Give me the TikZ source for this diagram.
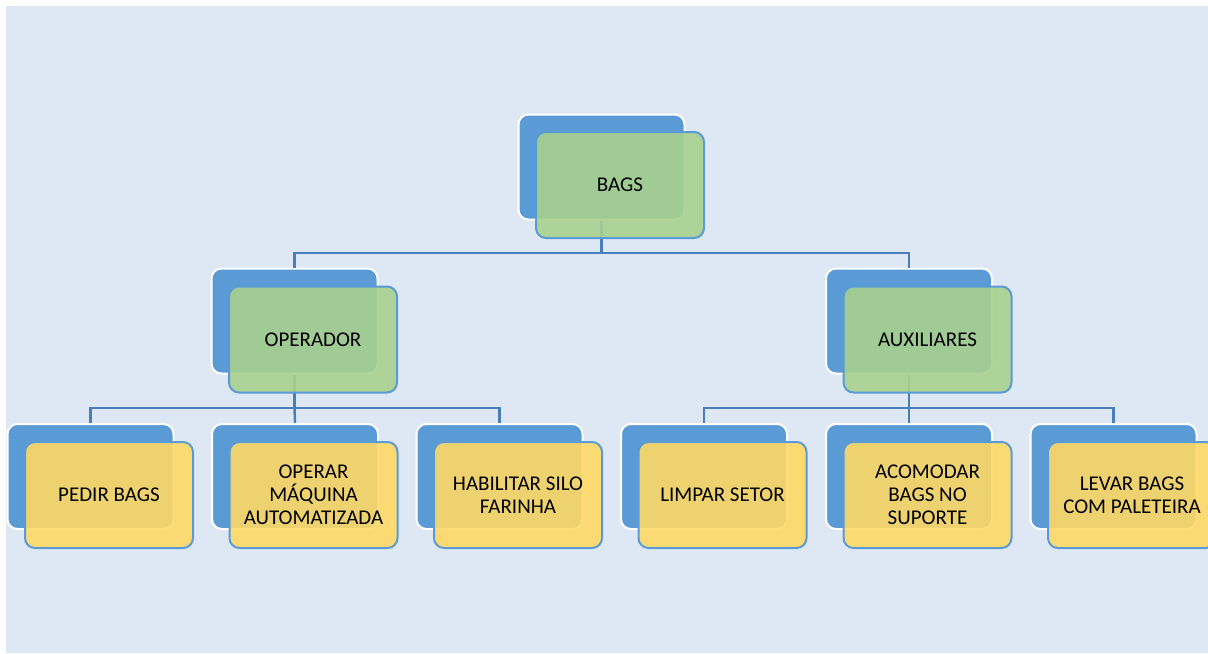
\documentclass[tikz,border=0pt]{standalone}
\usepackage{fontspec}
\setmainfont{Carlito}
\definecolor{pagebg}{HTML}{DEE8F4}
\definecolor{backblue}{HTML}{5B9BD5}
\definecolor{edgeblue}{HTML}{5B9BD5}
\definecolor{linkblue}{HTML}{4A7EBB}
\definecolor{leafgreen}{HTML}{A9D18E}
\definecolor{leafgold}{HTML}{FFD966}
\begin{document}
\begin{tikzpicture}[x=0.5pt,y=-0.5pt,
  backcard/.style={draw=white, line width=1pt, fill=backblue, rounded corners=5pt,
    minimum width=83pt, minimum height=52.5pt, inner sep=0pt},
  frontcard/.style={draw=edgeblue, line width=1pt, rounded corners=5pt, fill opacity=0.9,
    text opacity=1, minimum width=84pt, minimum height=53pt, inner sep=2pt,
    align=center, font=\fontsize{10.5}{11.5}\selectfont},
  greencard/.style={frontcard, fill=leafgreen},
  goldcard/.style={frontcard, fill=leafgold},
  conn/.style={draw=linkblue, line width=1.2pt}]
\useasboundingbox (0,0) rectangle (1208,653);
\clip (0,0) rectangle (1208,653);
\fill[white] (0,0) rectangle (1208,653);
\fill[pagebg] (6,6) rectangle (1208,653);

% back cards
\node[backcard] (b-bags) at (601.5,167) {};
\node[backcard] (b-oper) at (294.5,321) {};
\node[backcard] (b-aux)  at (909,321) {};
\node[backcard] (b-pedir) at (90.5,476.5) {};
\node[backcard] (b-maq)   at (295,476.5) {};
\node[backcard] (b-silo)  at (499.5,476.5) {};
\node[backcard] (b-limpar) at (704,476.5) {};
\node[backcard] (b-acom)  at (909,476.5) {};
\node[backcard] (b-levar) at (1113.5,476.5) {};

% connectors
\coordinate (j1) at (601.5,253);
\coordinate (j2) at (294.5,408);
\coordinate (j3) at (909,408);
\draw[conn] (b-bags.south) -- (j1) -| (b-oper.north);
\draw[conn] (j1) -| (b-aux.north);
\draw[conn] (b-oper.south) -- (j2) -| (b-pedir.north);
\draw[conn] (j2) -| (b-silo.north);
\draw[conn] (j2) -- (b-maq.north);
\draw[conn] (b-aux.south) -- (j3) -| (b-limpar.north);
\draw[conn] (j3) -| (b-levar.north);
\draw[conn] (j3) -- (b-acom.north);

% front cards
\node[greencard] (bags) at (620,185) {BAGS};
\node[greencard] (oper) at (313,339.5) {OPERADOR};
\node[greencard] (aux)  at (927.5,339.5) {AUXILIARES};
\node[goldcard] (pedir) at (109,495) {PEDIR BAGS};
\node[goldcard] (maq)   at (313.5,495) {OPERAR\\MÁQUINA\\AUTOMATIZADA};
\node[goldcard] (silo)  at (518,495) {HABILITAR SILO\\FARINHA};
\node[goldcard] (limpar) at (722.5,495) {LIMPAR SETOR};
\node[goldcard] (acom)  at (927.5,495) {ACOMODAR\\BAGS NO\\SUPORTE};
\node[goldcard] (levar) at (1132,495) {LEVAR BAGS\\COM PALETEIRA};
\end{tikzpicture}
\end{document}
